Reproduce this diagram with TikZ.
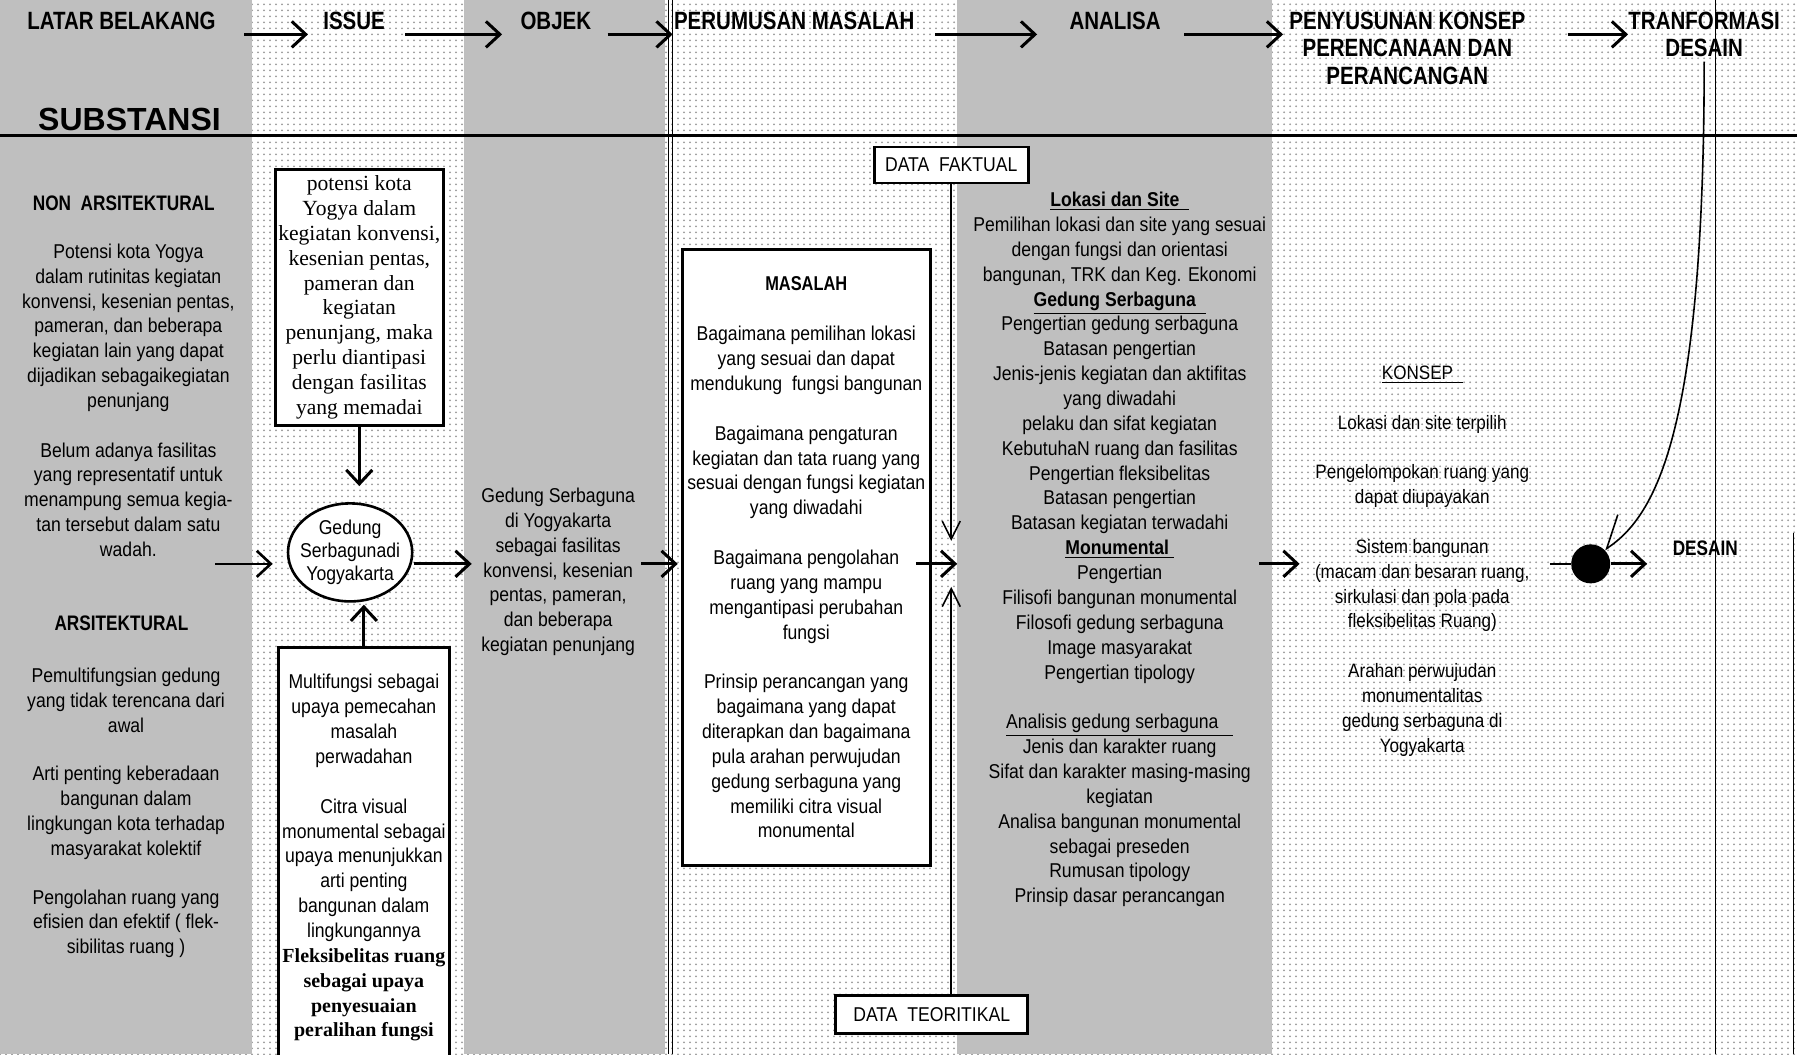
\documentclass[tikz,border=0pt]{standalone}
\usepackage{fontspec}
\setmainfont{Liberation Sans}
\newfontfamily\sempit[FakeStretch=0.88]{Liberation Sans}
\newfontfamily\judulfont[FakeStretch=0.82]{Liberation Sans}
\newfontfamily\serifbox{Liberation Serif}
\usetikzlibrary{arrows.meta,positioning,patterns,shapes.geometric}

\tikzset{
  >={Straight Barb[length=7pt,width=13pt]},
  % latar kolom
  abu/.style={fill=black!25},
  titik/.style={pattern=dots,pattern color=black!40},
  % teks
  judul/.style={font=\judulfont\bfseries\fontsize{12.5}{13.8}\selectfont,align=center,inner sep=0pt},
  subjudul/.style={font=\judulfont\bfseries\fontsize{10.5}{12.4}\selectfont,inner sep=0pt},
  isi/.style={font=\sempit\fontsize{10}{12.43}\selectfont,align=center,inner sep=0pt},
  kotak/.style={draw,line width=1.5pt,fill=white,align=center,inner sep=0pt},
  datakotak/.style={draw,line width=1.3pt,fill=white,inner sep=0pt,
                    font=\sempit\fontsize{10}{12}\selectfont},
  % panah
  alur/.style={->,line width=1.5pt},
  alurdata/.style={-{Straight Barb[length=9pt,width=9pt]},line width=.8pt},
  lengkung/.style={-{Straight Barb[right,length=14pt,width=22pt]},line width=.8pt},
}

\begin{document}
\begin{tikzpicture}[x=0.573pt,y=-0.573pt]
\useasboundingbox (0,0) rectangle (1568,920);
% latar
\fill[titik] (0,0) rectangle (1568,920);
\fill[abu] (0,0) rectangle (220,920);
\fill[abu] (405,0) rectangle (580,920);
\fill[abu] (835,0) rectangle (1110,920);
\draw[line width=.6pt] (583,0) -- (583,920) (587,0) -- (587,920);
\draw[line width=.6pt] (1497,0) -- (1497,920);
\draw[line width=.6pt] (1565,465) -- (1565,920);
\draw[line width=1.3pt] (0,118) -- (1568,118);

% judul tahap
\node[judul] (hLatar) at (106,18) {LATAR BELAKANG};
\node[judul] (hIssue) at (309,18) {ISSUE};
\node[judul] (hObjek) at (485,18) {OBJEK};
\node[judul] (hRumus) at (693,18) {PERUMUSAN MASALAH};
\node[judul] (hAnalisa) at (973,18) {ANALISA};
\node[judul,anchor=north] (hKonsep) at (1228,10) {PENYUSUNAN KONSEP\\PERENCANAAN DAN\\PERANCANGAN};
\node[judul,anchor=north] (hTrans) at (1487,10) {TRANFORMASI\\DESAIN};
\node[font=\bfseries\fontsize{16}{18}\selectfont,inner sep=0pt] (hSubstansi) at (113,104) {SUBSTANSI};
\coordinate (panah) at (0,30);
\foreach \a/\b/\s/\t in {hLatar/hIssue/14/7.5,hIssue/hObjek/10/9,hObjek/hRumus/8/0.5,
    hRumus/hAnalisa/10/16,hAnalisa/hKonsep/11.5/3,hKonsep/hTrans/21/0}
  \draw[alur,shorten <=\s pt,shorten >=\t pt] (\a.east |- panah) -- (\b.west |- panah);

% latar belakang
\node[subjudul] (nNonArs) at (108,177) {NON\ \ ARSITEKTURAL};
\node[isi] (nPotensi) at (112,286) {Potensi kota Yogya\\dalam rutinitas kegiatan\\konvensi, kesenian pentas,\\pameran, dan beberapa\\kegiatan lain yang dapat\\dijadikan sebagaikegiatan\\penunjang};
\node[isi] (nBelum) at (112,436) {Belum adanya fasilitas\\yang representatif untuk\\menampung semua kegia-\\tan tersebut dalam satu\\wadah.};
\node[subjudul] (nArs) at (106,544) {ARSITEKTURAL};
\node[isi] (nMultifungsi) at (110,611) {Pemultifungsian gedung\\yang tidak terencana dari\\awal};
\node[isi] (nArti) at (110,709) {Arti penting keberadaan\\bangunan dalam\\lingkungan kota terhadap\\masyarakat kolektif};
\node[isi] (nOlah) at (110,806) {Pengolahan ruang yang\\efisien dan efektif ( flek-\\sibilitas ruang )};

% issue
\node[kotak,font=\serifbox\fontsize{10.8}{12.4}\selectfont,minimum width=84pt,minimum height=128pt] (nIsuBox) at (313.5,259.5) {potensi kota\\Yogya dalam\\kegiatan konvensi,\\kesenian pentas,\\pameran dan\\kegiatan\\penunjang, maka\\perlu diantipasi\\dengan fasilitas\\yang memadai};
\node[ellipse,draw,line width=1.3pt,fill=white,isi,font=\sempit\fontsize{10}{11.3}\selectfont,inner xsep=-3pt,inner ysep=0pt,minimum width=58pt,minimum height=49pt] (gedung) at (305.5,482) {Gedung\\Serbagunadi\\Yogyakarta};
\node[kotak,isi,anchor=north,minimum width=85.4pt,minimum height=210pt] (nSolusi) at (317.5,564) {Multifungsi sebagai\\upaya pemecahan\\masalah\\perwadahan\\[12.43pt]Citra visual\\monumental sebagai\\upaya menunjukkan\\arti penting\\bangunan dalam\\lingkungannya\\{\serifbox\bfseries Fleksibelitas ruang}\\{\serifbox\bfseries sebagai upaya}\\{\serifbox\bfseries penyesuaian}\\{\serifbox\bfseries peralihan fungsi}};

% objek
\node[isi] (nObjekIsi) at (487,499) {Gedung Serbaguna\\di Yogyakarta\\sebagai fasilitas\\konvensi, kesenian\\pentas, pameran,\\dan beberapa\\kegiatan penunjang};

% perumusan masalah
\node[kotak,font=\sempit\fontsize{10}{12.43}\selectfont,minimum width=124pt,minimum height=308pt] (nMasalah) at (703.5,486.5) {{\judulfont\bfseries MASALAH}\\[12.43pt]Bagaimana pemilihan lokasi\\yang sesuai dan dapat\\mendukung\ \ fungsi bangunan\\[12.43pt]Bagaimana pengaturan\\kegiatan dan tata ruang yang\\sesuai dengan fungsi kegiatan\\yang diwadahi\\[12.43pt]Bagaimana pengolahan\\ruang yang mampu\\mengantipasi perubahan\\fungsi\\[12.43pt]Prinsip perancangan yang\\bagaimana yang dapat\\diterapkan dan bagaimana\\pula arahan perwujudan\\gedung serbaguna yang\\memiliki citra visual\\monumental};
\node[datakotak,minimum width=77pt,minimum height=18pt] (nFaktual) at (830,144) {DATA\ \ FAKTUAL};
\node[datakotak,minimum width=96pt,minimum height=19pt] (nTeoritikal) at (813,885) {DATA\ \ TEORITIKAL};
\coordinate (temu) at (830,492);

% analisa
\node[isi] (nAnalisaIsi) at (977,479.5) {{\bfseries\underline{Lokasi dan Site\ \ }}\\Pemilihan lokasi dan site yang sesuai\\dengan fungsi dan orientasi\\bangunan, TRK dan Keg. Ekonomi\\{\bfseries\underline{Gedung Serbaguna\ \ }}\\Pengertian gedung serbaguna\\Batasan pengertian\\Jenis-jenis kegiatan dan aktifitas\\yang diwadahi\\pelaku dan sifat kegiatan\\KebutuhaN ruang dan fasilitas\\Pengertian fleksibelitas\\Batasan pengertian\\Batasan kegiatan terwadahi\\{\bfseries\underline{Monumental\ }}\\Pengertian\\Filisofi bangunan monumental\\Filosofi gedung serbaguna\\Image masyarakat\\Pengertian tipology\\[12.43pt]\underline{Analisis gedung serbaguna\ \ \ }\\Jenis dan karakter ruang\\Sifat dan karakter masing-masing\\kegiatan\\Analisa bangunan monumental\\sebagai preseden\\Rumusan tipology\\Prinsip dasar perancangan};

% konsep
\node[isi,font=\sempit\fontsize{9.7}{12.43}\selectfont] (nKonsepIsi) at (1241,489.5) {\underline{KONSEP\ \ }\\[12.43pt]Lokasi dan site terpilih\\[12.43pt]Pengelompokan ruang yang\\dapat diupayakan\\[12.43pt]Sistem bangunan\\(macam dan besaran ruang,\\sirkulasi dan pola pada\\fleksibelitas Ruang)\\[12.43pt]Arahan perwujudan\\monumentalitas\\gedung serbaguna di\\Yogyakarta};

% transformasi
\node[circle,fill=black,minimum size=19.5pt,inner sep=0pt] (nBulat) at (1388,492) {};
\node[subjudul] (nDesain) at (1488,478) {DESAIN};

% panah isi
\coordinate (latarOut) at (188,492);
\draw[alur,line width=1.3pt,shorten >=7pt] (latarOut) -- (latarOut -| gedung.west);
\draw[alur,shorten >=8pt] (nIsuBox.south) -- (nIsuBox.south |- gedung.north);
\draw[alur,shorten >=1pt] (nSolusi.north) -- (nSolusi.north |- gedung.south);
\draw[alur,shorten >=4.6pt] (gedung.east |- temu) -- (nObjekIsi.west |- temu);
\draw[alur,shorten <=3pt,shorten >=1.5pt] (nObjekIsi.east |- temu) -- (nMasalah.west |- temu);
\draw[alur,shorten <=-8pt,shorten >=-3pt] (nMasalah.east |- temu) -- (temu);
\draw[alurdata,shorten >=11.5pt] (nFaktual.south -| temu) -- (temu);
\draw[alurdata,shorten >=11.5pt] (nTeoritikal.north -| temu) -- (temu);
\draw[alur,shorten <=-3.5pt,shorten >=7.5pt] (nAnalisaIsi.east |- temu) -- (nKonsepIsi.west |- temu);
\draw[line width=1.3pt,shorten <=10pt] (nKonsepIsi.east |- nBulat) -- (nBulat);
\draw[alur] (nBulat) -- (nBulat -| nDesain.west) [shorten >=12.6pt];
\draw[lengkung,shorten <=2pt] (hTrans.south) .. controls +(0,325) and +(45,-30) .. (nBulat.45);
\end{tikzpicture}
\end{document}
